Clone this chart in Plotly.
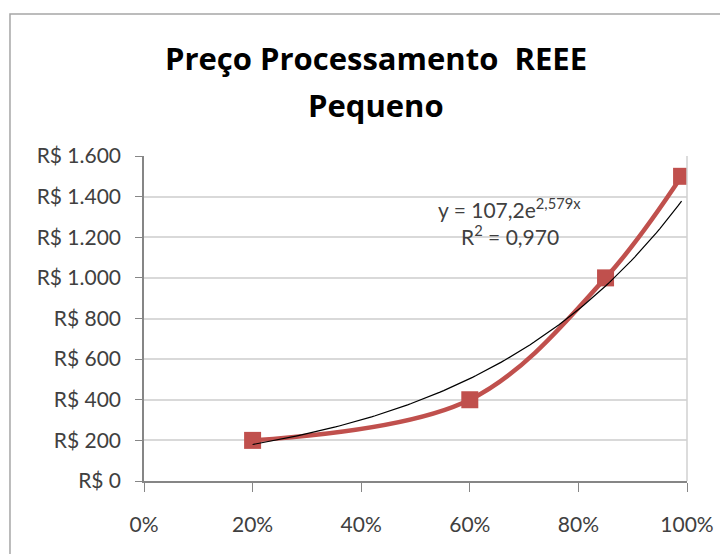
import plotly.graph_objects as go
import numpy as np

# Data
x_share = [0.20, 0.60, 0.85, 0.99]
price = [200, 400, 1000, 1500]
y_ticks = [0, 200, 400, 600, 800, 1000, 1200, 1400, 1600]
y_tick_labels = ["R$ 0", "R$ 200", "R$ 400", "R$ 600", "R$ 800", "R$ 1.000", "R$ 1.200", "R$ 1.400", "R$ 1.600"]
x_ticks = [0, 0.2, 0.4, 0.6, 0.8, 1.0]
x_tick_labels = ["0%", "20%", "40%", "60%", "80%", "100%"]
trend_a = 107.2
trend_b = 2.579
title_lines = ["Preço Processamento  REEE", "Pequeno"]

FONT = "Lato, 'Open Sans', sans-serif"
TFONT = "'Open Sans', Lato, sans-serif"
RED = "#C0504D"

tx = np.linspace(min(x_share), max(x_share), 120)
ty = trend_a * np.exp(trend_b * tx)

fig = go.Figure()
fig.add_trace(go.Scatter(
    x=x_share, y=price, mode="lines+markers",
    line=dict(color=RED, width=4.5, shape="spline", smoothing=1.0),
    marker=dict(symbol="square", size=17, color=RED),
    showlegend=False, hoverinfo="skip"))
fig.add_trace(go.Scatter(
    x=tx, y=ty, mode="lines",
    line=dict(color="#000000", width=1.2),
    showlegend=False, hoverinfo="skip"))

fig.update_layout(
    width=728, height=554,
    margin=dict(l=136, r=49, t=148, b=81),
    paper_bgcolor="white", plot_bgcolor="white",
    font=dict(family=FONT, color="#404040", size=21),
    xaxis=dict(range=[0, 1], tickvals=x_ticks, ticktext=x_tick_labels,
               showgrid=False, zeroline=False, showline=True,
               linecolor="#868686", linewidth=1.5,
               ticks="outside", ticklen=9, tickcolor="#868686",
               tickfont=dict(size=21, color="#404040"), ticklabelstandoff=15),
    yaxis=dict(range=[0, 1600], tickvals=y_ticks, ticktext=y_tick_labels,
               showgrid=True, gridcolor="#D9D9D9", gridwidth=1.5,
               zeroline=False, showline=True,
               linecolor="#868686", linewidth=1.5,
               ticks="outside", ticklen=7, tickcolor="#868686",
               tickfont=dict(size=21, color="#404040"), ticklabelstandoff=10),
    annotations=[
        dict(x=0.428, y=1.300, xref="paper", yref="paper", text="<b>" + title_lines[0] + "</b>",
             showarrow=False, xanchor="center", yanchor="middle",
             font=dict(size=31, color="#000000", family=TFONT)),
        dict(x=0.428, y=1.157, xref="paper", yref="paper", text="<b>" + title_lines[1] + "</b>",
             showarrow=False, xanchor="center", yanchor="middle",
             font=dict(size=31, color="#000000", family=TFONT)),
        dict(x=0.674, y=1345, xref="x", yref="y",
             text="y = 107,2e<sup>2,579x</sup>", showarrow=False,
             font=dict(size=21, color="#404040", family=FONT)),
        dict(x=0.674, y=1212, xref="x", yref="y",
             text="R<sup>2</sup> = 0,970", showarrow=False,
             font=dict(size=21, color="#404040", family=FONT)),
    ],
    shapes=[
        dict(type="line", xref="paper", yref="paper", x0=1, x1=1, y0=0, y1=1,
             line=dict(color="#D0D0D0", width=1.5)),
        dict(type="path", xref="paper", yref="paper",
             path="M -0.2468,-0.3 L -0.2468,1.437 L 1.2,1.437",
             line=dict(color="#A6A6A6", width=1.5)),
    ],
)

fig.write_html("out.html")
